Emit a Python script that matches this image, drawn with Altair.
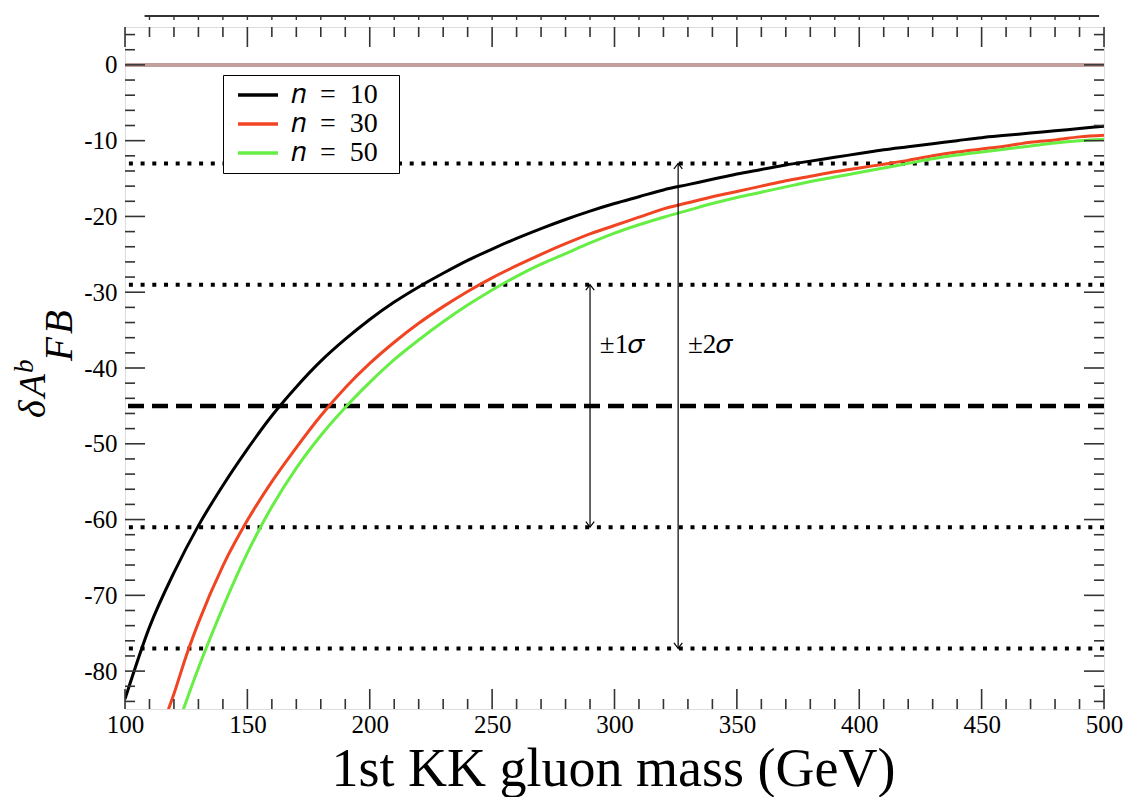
import altair as alt
import pandas as pd

W, H = 979, 682
FONT = "Liberation Serif"

# ---- data ----
n10_mass = [100,110,120,130,140,150,160,170,180,190,200,210,220,230,240,250,260,270,280,290,300,
            310,320,330,340,350,360,370,380,390,400,410,420,430,440,450,460,470,480,490,500]
n10_val = [-83.7,-74.2,-67.0,-60.8,-55.5,-50.7,-46.3,-42.5,-39.1,-36.2,-33.6,-31.3,-29.3,-27.5,-25.8,
           -24.3,-22.9,-21.6,-20.4,-19.3,-18.3,-17.4,-16.5,-15.8,-15.1,-14.4,-13.8,-13.2,-12.7,-12.2,
           -11.7,-11.2,-10.8,-10.4,-10.0,-9.6,-9.3,-9.0,-8.7,-8.4,-8.1]

n30_mass = [116,120,125,130,140,150,160,170,180,190,200,210,220,230,240,250,260,270,280,290,300,
            310,320,330,340,350,360,370,380,390,400,410,420,430,440,450,460,470,480,490,500]
n30_val = [-86.6,-83.0,-78.0,-73.6,-66.1,-60.1,-55.0,-50.5,-46.3,-42.6,-39.4,-36.6,-34.1,-31.9,-29.9,
           -28.1,-26.5,-25.0,-23.6,-22.3,-21.2,-20.1,-19.0,-18.2,-17.4,-16.7,-16.0,-15.3,-14.7,-14.1,
           -13.6,-13.1,-12.6,-12.0,-11.5,-11.1,-10.7,-10.2,-9.9,-9.5,-9.3]

n50_mass = [122,125,130,135,140,150,160,170,180,190,200,210,220,230,240,250,260,270,280,290,300,
            310,320,330,340,350,360,370,380,390,400,410,420,430,440,450,460,470,480,490,500]
n50_val = [-86.7,-84.0,-79.6,-75.5,-71.6,-64.4,-58.3,-53.2,-48.9,-45.2,-41.9,-38.9,-36.3,-33.9,-31.7,
           -29.7,-27.9,-26.3,-24.9,-23.5,-22.2,-21.1,-20.1,-19.2,-18.3,-17.5,-16.8,-16.1,-15.4,-14.8,
           -14.2,-13.6,-13.0,-12.4,-11.9,-11.5,-11.1,-10.7,-10.3,-10.0,-9.8]

series_names = ["𝑛\u2002=\u200210", "𝑛\u2002=\u200230", "𝑛\u2002=\u200250"]
series_colors = ["#000000", "#f04422", "#66ee44"]

central_value = [-45]
sigma_levels = [-13, -29, -61, -77]
zero_level = [0]

arrow_x = [290, 326]
arrow_top = [-29, -13]
arrow_bottom = [-61, -77]
arrow_labels = ["±1𝜎", "±2𝜎"]
label_x = [294, 330]
label_y = [-36.9, -36.9]

x_major = [100, 150, 200, 250, 300, 350, 400, 450, 500]
x_minor = [m for m in range(110, 500, 10) if m % 50 != 0]
y_major = [0, -10, -20, -30, -40, -50, -60, -70, -80]
y_minor = [v for v in range(4, -85, -2) if v % 10 != 0]

# ---- frames ----
curves = pd.DataFrame({
    "mass": n10_mass + n30_mass + n50_mass,
    "val": n10_val + n30_val + n50_val,
    "series": [series_names[0]] * len(n10_mass) + [series_names[1]] * len(n30_mass)
              + [series_names[2]] * len(n50_mass),
})
arrows = pd.DataFrame({"x": arrow_x, "top": arrow_top, "bottom": arrow_bottom})
labels = pd.DataFrame({"x": label_x, "y": label_y, "t": arrow_labels})

xs = alt.Scale(domain=[100, 500], nice=False, zero=False)
ys = alt.Scale(domain=[-85, 5], nice=False, zero=False)

x_axis = alt.Axis(values=x_major, ticks=False, domain=False, grid=False, labelFont=FONT,
                  labelFontSize=25, labelColor="black", labelPadding=3,
                  title="1st KK gluon mass (GeV)", titleFont=FONT, titleFontSize=54,
                  titleFontWeight="normal", titleColor="black", titleX=488, titleY=76,
                  titleBaseline="alphabetic", labelFlush=False)
y_axis = alt.Axis(values=y_major, ticks=False, domain=False, grid=False, labelFont=FONT,
                  labelFontSize=25, labelColor="black", labelPadding=8, title=None,
                  labelExpr="datum.value < 0 ? '-' + abs(datum.value) : '' + datum.value")

zero = alt.Chart(pd.DataFrame({"y": zero_level})).mark_rule(
    color="#c4a09c", strokeWidth=4).encode(y=alt.Y("y:Q", scale=ys, axis=y_axis))

dotted = alt.Chart(pd.DataFrame({"y": sigma_levels})).mark_rule(
    color="black", strokeWidth=4, strokeDash=[4, 7.7]).encode(y=alt.Y("y:Q", scale=ys))

dashed = alt.Chart(pd.DataFrame({"y": central_value})).mark_rule(
    color="black", strokeWidth=4.5, strokeDash=[16, 8]).encode(y=alt.Y("y:Q", scale=ys))

lines = alt.Chart(curves).mark_line(strokeWidth=3, clip=True, interpolate="monotone").encode(
    x=alt.X("mass:Q", scale=xs, axis=x_axis),
    y=alt.Y("val:Q", scale=ys),
    color=alt.Color("series:N", scale=alt.Scale(domain=series_names, range=series_colors),
                    legend=alt.Legend(title="\u00a0", titleOrient="right", titleFontSize=10,
                                      titlePadding=15,
                                      orient="none", legendX=98, legendY=48,
                                      symbolType="M-0.5,0L3.5,0", symbolSize=400,
                                      symbolStrokeWidth=3.5,
                                      labelFont=FONT, labelFontSize=28, labelColor="black",
                                      labelOffset=34, rowPadding=1, padding=6,
                                      strokeColor="black", fillColor="white")),
    detail="series:N",
)

arrow_lines = alt.Chart(arrows).mark_rule(color="black", strokeWidth=1.2).encode(
    x=alt.X("x:Q", scale=xs), y=alt.Y("top:Q", scale=ys), y2="bottom:Q")

up_head = alt.Chart(arrows).mark_point(shape="M-1,1.3L0,0L1,1.3", size=70, filled=False,
                                       color="black", strokeWidth=1.2, opacity=1).encode(
    x=alt.X("x:Q", scale=xs), y=alt.Y("top:Q", scale=ys))
down_head = alt.Chart(arrows).mark_point(shape="M-1,-1.3L0,0L1,-1.3", size=70, filled=False,
                                         color="black", strokeWidth=1.2, opacity=1).encode(
    x=alt.X("x:Q", scale=xs), y=alt.Y("bottom:Q", scale=ys))

sig_text = alt.Chart(labels).mark_text(font=FONT, fontSize=27, align="left",
                                       baseline="middle", color="black").encode(
    x=alt.X("x:Q", scale=xs), y=alt.Y("y:Q", scale=ys), text="t:N")

# ---- tick marks (inward, on all four sides) ----
def xticks(vals, length, top):
    df = pd.DataFrame({"x": vals})
    y0, y1 = (0, length) if top else (H, H - length)
    return alt.Chart(df).mark_rule(color="#333333", strokeWidth=1.6).encode(
        x=alt.X("x:Q", scale=xs), y=alt.value(y0), y2=alt.value(y1))

def yticks(vals, length, right):
    df = pd.DataFrame({"y": vals})
    x0, x1 = (W, W - length) if right else (0, length)
    return alt.Chart(df).mark_rule(color="#333333", strokeWidth=1.6).encode(
        y=alt.Y("y:Q", scale=ys), x=alt.value(x0), x2=alt.value(x1))

ticks = [
    xticks(x_major, 20, False), xticks(x_minor, 10, False),
    xticks(x_major, 20, True), xticks(x_minor, 10, True),
    yticks(y_major, 20, False), yticks(y_minor, 10, False),
    yticks(y_major, 20, True), yticks(y_minor, 10, True),
]

# remnant of the panel above (frame edge with small ticks), as in the reference
above_line = alt.Chart(pd.DataFrame({"x": [108, 498]})).mark_rule(
    color="#333333", strokeWidth=2).encode(
    x=alt.X("min(x):Q", scale=xs), x2="max(x):Q", y=alt.value(-11))
above_ticks = alt.Chart(pd.DataFrame({"x": x_major[1:-1] + x_minor})).mark_rule(
    color="#333333", strokeWidth=1.4).encode(
    x=alt.X("x:Q", scale=xs), y=alt.value(-11), y2=alt.value(-7))

# ---- y-axis title built from pieces: δA^b_FB ----
def title_piece(txt, size, xpix, ypix, align):
    return alt.Chart(pd.DataFrame({"t": [txt]})).mark_text(
        font=FONT, fontSize=size, fontStyle="italic", angle=270, align=align,
        baseline="alphabetic", color="black").encode(
        text="t:N", x=alt.value(xpix), y=alt.value(ypix))

ytitle = [
    title_piece("δ\u200aA", 38, -80, 347, "right"),
    title_piece("b", 27, -92, 346, "left"),
    title_piece("F\u200aB", 39, -53, 334, "left"),
]

chart = alt.layer(
    zero, dotted, dashed, lines, arrow_lines, up_head, down_head, sig_text,
    *ticks, above_line, above_ticks, *ytitle
).properties(
    width=W, height=H,
    autosize=alt.AutoSizeParams(type="none"),
    padding={"left": 117, "top": 19, "right": 32, "bottom": 88},
).configure_view(stroke="#333333", strokeWidth=2).configure(background="white")

chart.save("out.html", embed_options={"renderer": "svg", "actions": False})
